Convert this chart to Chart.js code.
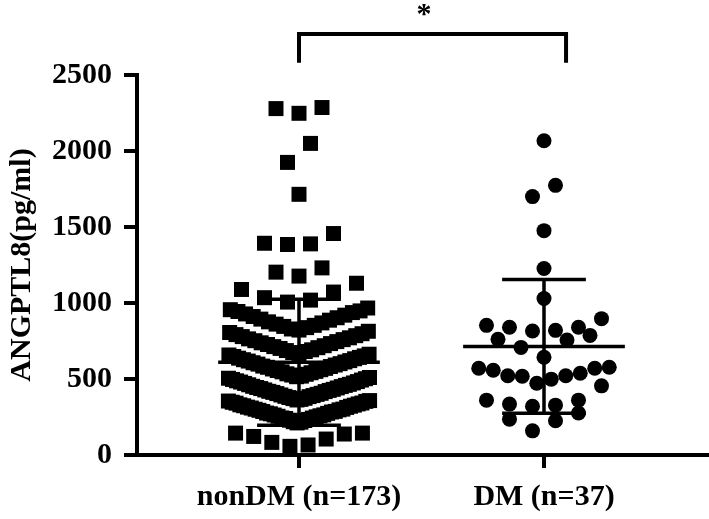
<!DOCTYPE html>
<html>
<head>
<meta charset="utf-8">
<script src="https://cdn.jsdelivr.net/npm/chart.js@4.4.1/dist/chart.umd.min.js"></script>
<style>
  html, body { margin: 0; padding: 0; background: #fff; }
  #wrap { width: 709px; height: 519px; }
</style>
</head>
<body>
<div id="wrap"><canvas id="chartAngptl8" width="709" height="519"></canvas></div>
<script>
// values (pg/ml)
const groups = ['nonDM (n=173)', 'DM (n=37)'];
const nonDM = [
  2279, 2248, 2286, 2050, 1925, 1715, 1393, 1385, 1389, 1457,
  1203, 1177, 1231, 1130, 1089, 1035, 1006, 1019, 1072,
  822, 829, 838, 846, 853, 861, 869, 876, 887, 894, 903, 911, 920, 928, 937, 944, 948, 956, 967,
  668, 674, 681, 687, 692, 701, 706, 713, 719, 727, 733, 738, 746, 752, 759, 764, 771, 779, 785, 792, 798, 806, 814,
  515, 519, 526, 531, 534, 541, 547, 550, 556, 561, 566, 570, 577, 582, 585, 592, 598, 601, 607, 612,
  618, 621, 627, 633, 637, 642, 648, 652, 658, 663,
  362, 366, 371, 373, 378, 384, 386, 391, 395, 399, 404, 406, 412, 417, 419, 425, 428, 432,
  437, 441, 444, 450, 452, 458, 462, 465, 471, 474, 480, 483, 488, 493, 497, 502, 505, 510,
  211, 216, 219, 227, 229, 234, 240, 243, 244, 251, 255, 258, 263, 264, 271, 274, 276, 283, 286,
  287, 294, 297, 301, 302, 309, 313, 315, 321, 324, 328, 330, 336, 341, 342, 347, 353, 355, 358,
  57, 66, 83, 105, 122, 138, 144, 144
];
const dm = [
  2067, 1774, 1700, 1476, 1227, 1030, 897, 853, 840, 840, 820, 816,
  787, 761, 757, 708, 643, 577, 571, 571, 558, 538, 521, 521, 518, 499, 472,
  455, 361, 361, 335, 328, 321, 276, 236, 225, 159
];
const groupMean = [610, 714];
const groupSD = [415, 440];
const yTicks = [0, 500, 1000, 1500, 2000, 2500];
// significance bracket between the two columns
const bracketX = [1, 2.09];
const bracketY = [2580, 2770];
const sigMark = '*';
const sigPos = [1.51, 2842];

// layout
const W = 709, H = 519;
const AXIS_W = 137, AXIS_H = 64, PAD_TOP = 75, PAD_RIGHT = 2;
const xMin = 0.3388, xMax = 2.6653;
const pxPerX = (W - AXIS_W - PAD_RIGHT) / (xMax - xMin);
const FONT = '"Liberation Serif", "Times New Roman", serif';

// Prism-like column scatter: points sorted, grouped in rows,
// lowest in the middle then alternating left / right
function swarm(values, center) {
  const sorted = values.slice().sort((a, b) => a - b);
  const rows = [];
  let row = null;
  sorted.forEach(v => {
    if (!row || v >= row[0] + 150) { row = []; rows.push(row); }
    row.push(v);
  });
  const pts = [];
  rows.forEach(r => {
    const n = r.length;
    const step = Math.min(23, 145 / n);
    const slots = [];
    for (let k = 0; k < n; k++) slots.push(k - (n - 1) / 2);
    slots.sort((a, b) => Math.abs(a) - Math.abs(b) || a - b);
    r.forEach((v, i) => pts.push({ x: center + slots[i] * step / pxPerX, y: v }));
  });
  return pts;
}

// mean line + SD whiskers with caps
function errorBar(i) {
  const g = i + 1, m = groupMean[i], s = groupSD[i];
  const meanHalf = 0.33, capHalf = 0.171;
  const gap = { x: g, y: null };
  return [
    { x: g - meanHalf, y: m }, { x: g + meanHalf, y: m }, gap,
    { x: g, y: m - s }, { x: g, y: m + s }, gap,
    { x: g - capHalf, y: m + s }, { x: g + capHalf, y: m + s }, gap,
    { x: g - capHalf, y: m - s }, { x: g + capHalf, y: m - s }
  ];
}

const lineDs = (data, width) => ({
  type: 'line',
  data: data,
  showLine: true,
  borderColor: '#000',
  borderWidth: width,
  pointRadius: 0,
  tension: 0,
  spanGaps: false,
  borderCapStyle: 'butt',
  borderJoinStyle: 'miter',
  clip: false
});

const sigLabel = {
  id: 'sigLabel',
  afterDatasetsDraw(chart) {
    const { ctx, scales: { x, y } } = chart;
    ctx.save();
    ctx.font = 'bold 30px ' + FONT;
    ctx.fillStyle = '#000';
    ctx.textAlign = 'center';
    ctx.textBaseline = 'alphabetic';
    ctx.fillText(sigMark, x.getPixelForValue(sigPos[0]), y.getPixelForValue(sigPos[1]));
    ctx.restore();
  }
};

new Chart(document.getElementById('chartAngptl8'), {
  type: 'scatter',
  data: {
    datasets: [
      lineDs(errorBar(0), 3.5),
      lineDs(errorBar(1), 3.5),
      lineDs([
        { x: bracketX[0], y: bracketY[0] }, { x: bracketX[0], y: bracketY[1] },
        { x: bracketX[1], y: bracketY[1] }, { x: bracketX[1], y: bracketY[0] }
      ], 4),
      {
        label: groups[0],
        data: swarm(nonDM, 1),
        pointStyle: 'rect',
        pointRadius: 10.6,
        backgroundColor: '#000',
        borderWidth: 0
      },
      {
        label: groups[1],
        data: swarm(dm, 2),
        pointStyle: 'circle',
        pointRadius: 7.5,
        backgroundColor: '#000',
        borderWidth: 0
      }
    ]
  },
  options: {
    responsive: false,
    animation: false,
    events: [],
    layout: {
      autoPadding: false,
      padding: { top: PAD_TOP, right: PAD_RIGHT, left: 0, bottom: 0 }
    },
    plugins: {
      legend: { display: false },
      tooltip: { enabled: false }
    },
    scales: {
      x: {
        type: 'linear',
        min: xMin,
        max: xMax,
        afterBuildTicks: s => { s.ticks = [{ value: 1 }, { value: 2 }]; },
        afterFit: s => { s.height = AXIS_H; },
        border: { display: true, color: '#000', width: 4 },
        grid: { drawOnChartArea: false, drawTicks: true, tickLength: 13, lineWidth: 4, color: '#000' },
        ticks: {
          color: '#000',
          padding: 11,
          maxRotation: 0,
          font: { family: FONT, size: 30, weight: 'bold' },
          callback: v => groups[v - 1]
        }
      },
      y: {
        min: 0,
        max: 2500,
        afterBuildTicks: s => { s.ticks = yTicks.map(v => ({ value: v })); },
        afterFit: s => { s.width = AXIS_W; },
        border: { display: true, color: '#000', width: 4 },
        grid: { drawOnChartArea: false, drawTicks: true, tickLength: 13, lineWidth: 4, color: '#000' },
        ticks: {
          color: '#000',
          padding: 12,
          font: { family: FONT, size: 30, weight: 'bold' },
          callback: v => String(v)
        },
        title: {
          display: true,
          text: 'ANGPTL8(pg/ml)',
          color: '#000',
          padding: { top: 4, bottom: 0 },
          font: { family: FONT, size: 30, weight: 'bold' }
        }
      }
    }
  },
  plugins: [sigLabel]
});
</script>
</body>
</html>
